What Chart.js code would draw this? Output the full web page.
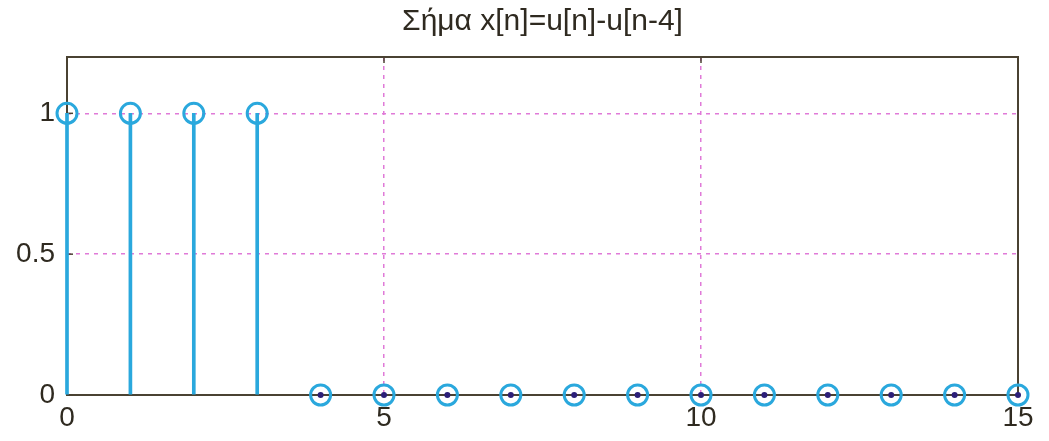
<!DOCTYPE html>
<html lang="el">
<head>
  <meta charset="UTF-8">
  <title>Σήμα x[n]</title>
  <script src="https://cdn.jsdelivr.net/npm/chart.js"></script>
  <style>
    html, body { margin: 0; padding: 0; background: #fff; }
    #wrap { width: 1049px; height: 441px; }
  </style>
</head>
<body>
  <div id="wrap"><canvas id="stem"></canvas></div>

<script>
  // dados do sinal x[n] = u[n] - u[n-4]
  const amostras = [0, 1, 2, 3, 4, 5, 6, 7, 8, 9, 10, 11, 12, 13, 14, 15];
  const valores = [1, 1, 1, 1, 0, 0, 0, 0, 0, 0, 0, 0, 0, 0, 0, 0];
  const ticksX = [0, 5, 10, 15];
  const ticksY = [0, 0.5, 1];

  const pontos = amostras.map((n, i) => ({ x: n, y: valores[i] }));

  const corStem = '#2aa8dd';
  const corEixo = '#4a4232';
  const corGrade = '#e07ad8';
  const fonte = 'Arial, "Liberation Sans", sans-serif';

  // moldura nos 4 lados + tracinhos internos
  const moldura = {
    id: 'moldura',
    beforeDatasetsDraw(chart) {
      const { ctx, chartArea: a, scales } = chart;
      ctx.save();
      ctx.strokeStyle = corEixo;
      ctx.lineWidth = 2;
      ctx.strokeRect(a.left, a.top, a.right - a.left, a.bottom - a.top);
      ctx.lineWidth = 1.5;
      ticksX.forEach(v => {
        const px = scales.x.getPixelForValue(v);
        ctx.beginPath(); ctx.moveTo(px, a.top); ctx.lineTo(px, a.top + 6); ctx.stroke();
      });
      ticksY.forEach(v => {
        const py = scales.y.getPixelForValue(v);
        ctx.beginPath(); ctx.moveTo(a.left, py); ctx.lineTo(a.left + 6, py); ctx.stroke();
      });
      ctx.restore();
    }
  };

  new Chart(document.getElementById('stem'), {
    data: {
      datasets: [
        {
          type: 'scatter',
          data: pontos,
          clip: false,
          pointStyle: 'circle',
          pointRadius: 10,
          pointBorderWidth: 3,
          pointBorderColor: corStem,
          pointBackgroundColor: 'rgba(0,0,0,0)',
          order: 0
        },
        {
          type: 'scatter',
          data: pontos,
          clip: false,
          pointRadius: c => (c.raw && c.raw.y === 0 ? 3 : 0),
          pointBorderWidth: 0,
          pointBackgroundColor: '#2c1f78',
          order: 1
        },
        {
          type: 'bar',
          data: pontos,
          clip: false,
          backgroundColor: corStem,
          barThickness: 3,
          borderSkipped: false,
          order: 2
        }
      ]
    },
    options: {
      responsive: true,
      maintainAspectRatio: false,
      animation: false,
      events: [],
      layout: { padding: { left: 0, right: 31, top: 0, bottom: 0 } },
      plugins: {
        legend: { display: false },
        tooltip: { enabled: false },
        title: {
          display: true,
          fullSize: false,
          text: 'Σήμα x[n]=u[n]-u[n-4]',
          color: '#2f2a20',
          font: { family: fonte, size: 30, weight: 'normal' },
          padding: { top: 4, bottom: 17 }
        }
      },
      scales: {
        x: {
          type: 'linear',
          min: 0,
          max: 15,
          offset: false,
          afterBuildTicks: s => { s.ticks = ticksX.map(v => ({ value: v })); },
          afterFit: s => { s.height = 46; },
          ticks: {
            color: '#2f2a20',
            padding: 6,
            font: { family: fonte, size: 28 }
          },
          grid: {
            offset: false,
            drawTicks: false,
            color: c => (c.tick && (c.tick.value === 5 || c.tick.value === 10) ? corGrade : 'rgba(0,0,0,0)'),
            lineWidth: 1.5
          },
          border: { display: false, dash: [4, 5] }
        },
        y: {
          min: 0,
          max: 1.2,
          afterBuildTicks: s => { s.ticks = ticksY.map(v => ({ value: v })); },
          afterFit: s => { s.width = 67; },
          ticks: {
            color: '#2f2a20',
            padding: 12,
            callback: v => String(v),
            font: { family: fonte, size: 28 }
          },
          grid: {
            drawTicks: false,
            color: c => (c.tick && (c.tick.value === 0.5 || c.tick.value === 1) ? corGrade : 'rgba(0,0,0,0)'),
            lineWidth: 1.5
          },
          border: { display: false, dash: [4, 5] }
        }
      }
    },
    plugins: [moldura]
  });
</script>
</body>
</html>
